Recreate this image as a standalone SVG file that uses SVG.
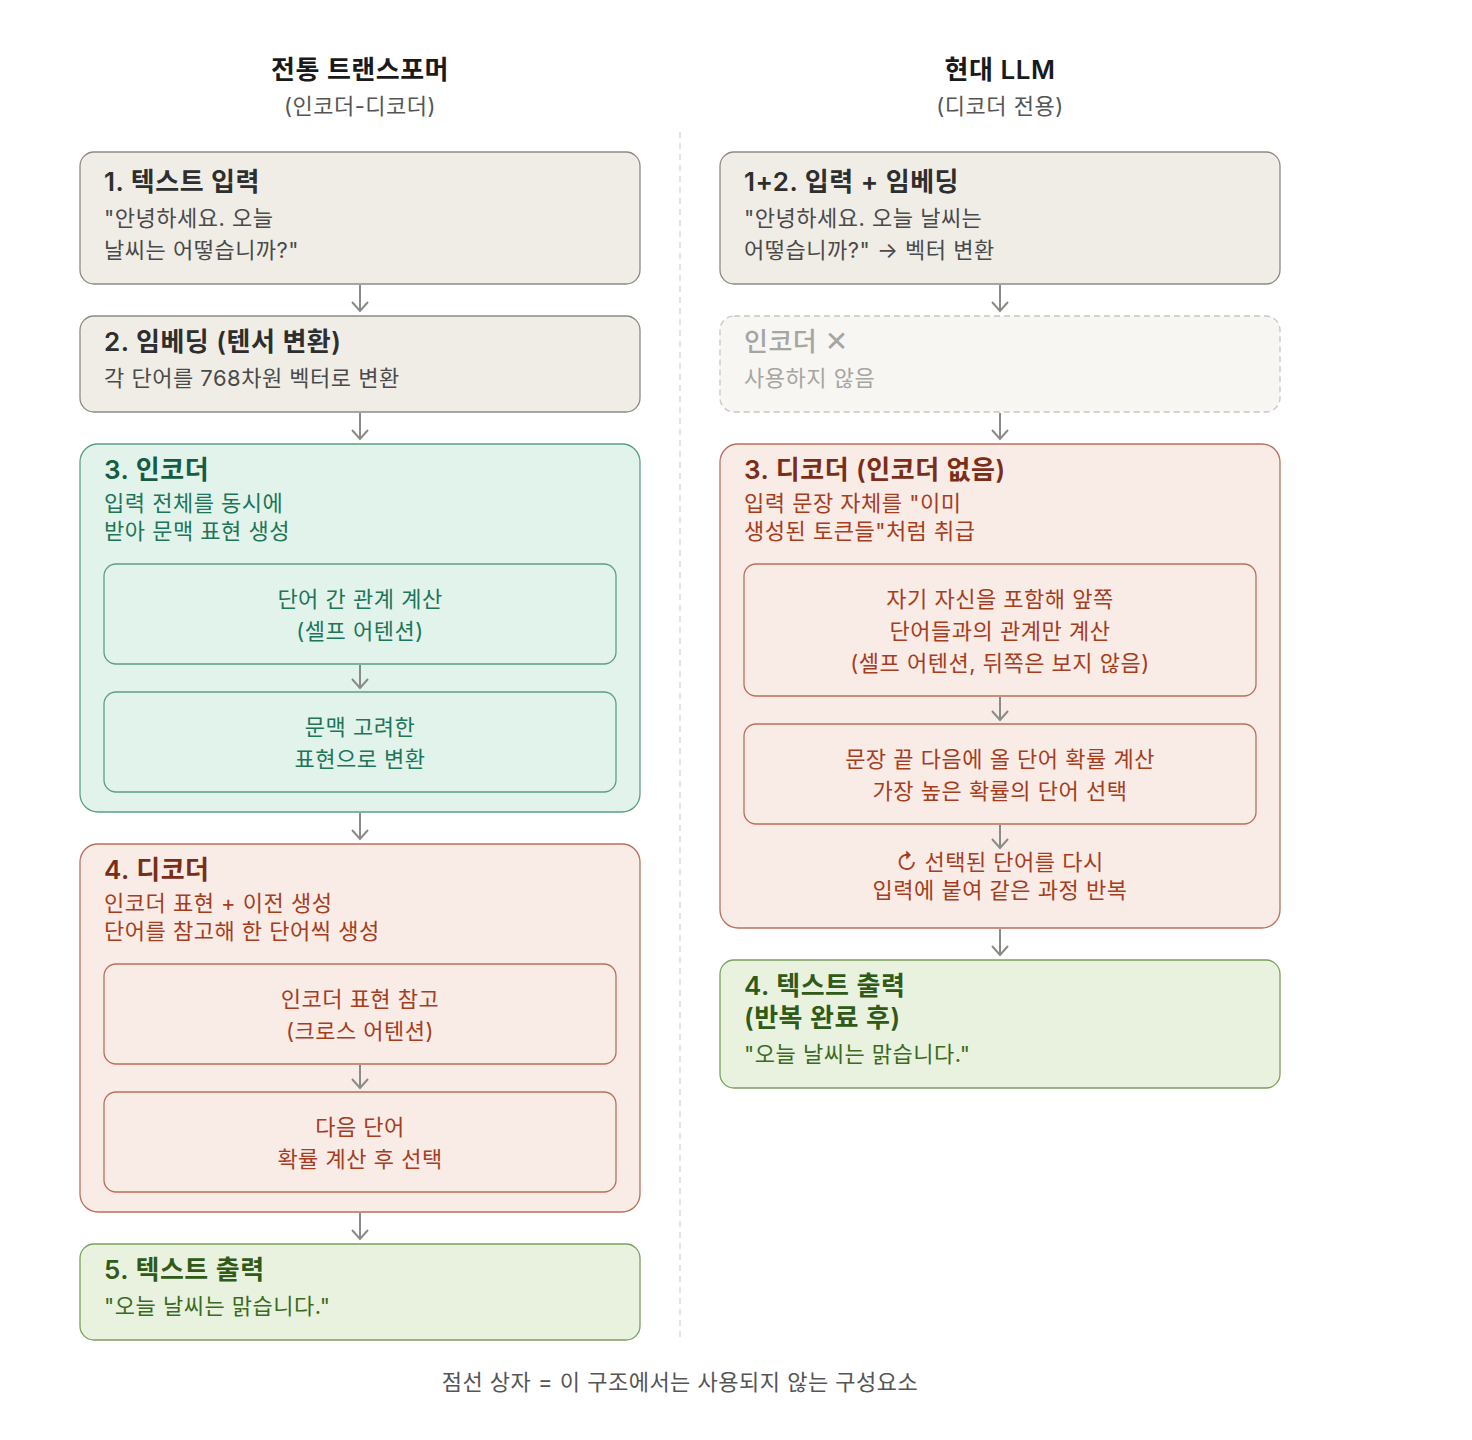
<svg xmlns="http://www.w3.org/2000/svg" width="1472" height="1440" viewBox="0 0 1472 1440">
<style>
text { font-family: Inter, "Noto Sans CJK KR", "Noto Sans", sans-serif; letter-spacing: 0.5px; }
.h { font-size: 26px; font-weight: 600; fill: #1a1a1a; text-anchor: middle; }
.sub { font-size: 22px; fill: #555; text-anchor: middle; }
.t { font-size: 26px; font-weight: 600; }
.b { font-size: 22px; }
.c { text-anchor: middle; }
.gray rect { fill: #f0ede6; stroke: #8c8a85; stroke-width: 1.3; }
.gray .t { fill: #2e2e2e; }
.gray .b { fill: #4a4a4a; }
.teal rect { fill: #e2f3ec; stroke: #5e9e86; stroke-width: 1.3; }
.teal .t { fill: #155c45; }
.teal .b { fill: #1e7558; }
.red rect { fill: #f9ebe5; stroke: #b9705a; stroke-width: 1.3; }
.red .t { fill: #7a2e17; }
.red .b { fill: #a43e1e; }
.green rect { fill: #e9f2df; stroke: #7c9f5f; stroke-width: 1.3; }
.green .t { fill: #2f5a17; }
.green .b { fill: #3b6a1e; }
.off rect { fill: #f7f6f2; stroke: #c8c6c1; stroke-width: 1.3; stroke-dasharray: 6 4; }
.off .t { fill: #a5a5a2; font-weight: 500; }
.off .b { fill: #a5a5a2; }
.x { font-family: "DejaVu Sans", sans-serif; font-weight: 400; font-size: 28px; }
.conn line { stroke: #8a8a86; stroke-width: 2; }
.conn path { fill: none; stroke: #8a8a86; stroke-width: 2; }
</style>

<g id="headers">
<text class="h" x="360" y="79">전통 트랜스포머</text>
<text class="sub" x="360" y="114">(인코더-디코더)</text>
<text class="h" x="1000" y="79">현대 LLM</text>
<text class="sub" x="1000" y="114">(디코더 전용)</text>
</g>

<line id="divider" x1="680" y1="132" x2="680" y2="1340" stroke="#dcdcd8" stroke-width="1.5" stroke-dasharray="6 5"/>

<g id="left-input" class="gray">
<rect x="80" y="152" width="560" height="132" rx="14"/>
<text class="t" x="104" y="191">1. 텍스트 입력</text>
<text class="b" x="104" y="226">"안녕하세요. 오늘</text>
<text class="b" x="104" y="258">날씨는 어떻습니까?"</text>
</g>

<g id="left-embed" class="gray">
<rect x="80" y="316" width="560" height="96" rx="14"/>
<text class="t" x="104" y="351">2. 임베딩 (텐서 변환)</text>
<text class="b" x="104" y="386">각 단어를 768차원 벡터로 변환</text>
</g>

<g id="left-encoder" class="teal">
<rect x="80" y="444" width="560" height="368" rx="18"/>
<text class="t" x="104" y="479">3. 인코더</text>
<text class="b" x="104" y="511">입력 전체를 동시에</text>
<text class="b" x="104" y="539">받아 문맥 표현 생성</text>
<g id="enc-selfattn">
<rect x="104" y="564" width="512" height="100" rx="12"/>
<text class="b c" x="360" y="607">단어 간 관계 계산</text>
<text class="b c" x="360" y="639">(셀프 어텐션)</text>
</g>
<g id="enc-context">
<rect x="104" y="692" width="512" height="100" rx="12"/>
<text class="b c" x="360" y="735">문맥 고려한</text>
<text class="b c" x="360" y="767">표현으로 변환</text>
</g>
</g>

<g id="left-decoder" class="red">
<rect x="80" y="844" width="560" height="368" rx="18"/>
<text class="t" x="104" y="879">4. 디코더</text>
<text class="b" x="104" y="911">인코더 표현 + 이전 생성</text>
<text class="b" x="104" y="939">단어를 참고해 한 단어씩 생성</text>
<g id="dec-cross">
<rect x="104" y="964" width="512" height="100" rx="12"/>
<text class="b c" x="360" y="1007">인코더 표현 참고</text>
<text class="b c" x="360" y="1039">(크로스 어텐션)</text>
</g>
<g id="dec-next">
<rect x="104" y="1092" width="512" height="100" rx="12"/>
<text class="b c" x="360" y="1135">다음 단어</text>
<text class="b c" x="360" y="1167">확률 계산 후 선택</text>
</g>
</g>

<g id="left-output" class="green">
<rect x="80" y="1244" width="560" height="96" rx="14"/>
<text class="t" x="104" y="1279">5. 텍스트 출력</text>
<text class="b" x="104" y="1314">"오늘 날씨는 맑습니다."</text>
</g>

<g id="right-input" class="gray">
<rect x="720" y="152" width="560" height="132" rx="14"/>
<text class="t" x="744" y="191">1+2. 입력 + 임베딩</text>
<text class="b" x="744" y="226">"안녕하세요. 오늘 날씨는</text>
<text class="b" x="744" y="258">어떻습니까?" → 벡터 변환</text>
</g>

<g id="right-encoder-off" class="off">
<rect x="720" y="316" width="560" height="96" rx="14"/>
<text class="t" x="744" y="351">인코더 <tspan class="x">✕</tspan></text>
<text class="b" x="744" y="386">사용하지 않음</text>
</g>

<g id="right-decoder" class="red">
<rect x="720" y="444" width="560" height="484" rx="18"/>
<text class="t" x="744" y="479">3. 디코더 (인코더 없음)</text>
<text class="b" x="744" y="511">입력 문장 자체를 "이미</text>
<text class="b" x="744" y="539">생성된 토큰들"처럼 취급</text>
<g id="rdec-masked">
<rect x="744" y="564" width="512" height="132" rx="12"/>
<text class="b c" x="1000" y="607">자기 자신을 포함해 앞쪽</text>
<text class="b c" x="1000" y="639">단어들과의 관계만 계산</text>
<text class="b c" x="1000" y="671">(셀프 어텐션, 뒤쪽은 보지 않음)</text>
</g>
<g id="rdec-next">
<rect x="744" y="724" width="512" height="100" rx="12"/>
<text class="b c" x="1000" y="767">문장 끝 다음에 올 단어 확률 계산</text>
<text class="b c" x="1000" y="799">가장 높은 확률의 단어 선택</text>
</g>
<g id="rdec-loop">
<text class="b c" x="1000" y="870">↻ 선택된 단어를 다시</text>
<text class="b c" x="1000" y="898">입력에 붙여 같은 과정 반복</text>
</g>
</g>

<g id="right-output" class="green">
<rect x="720" y="960" width="560" height="128" rx="14"/>
<text class="t" x="744" y="995">4. 텍스트 출력</text>
<text class="t" x="744" y="1027">(반복 완료 후)</text>
<text class="b" x="744" y="1062">"오늘 날씨는 맑습니다."</text>
</g>

<g id="connectors" class="conn">
<line x1="360" y1="285" x2="360" y2="311"/><path d="M352 302 L360 311 L368 302"/>
<line x1="360" y1="413" x2="360" y2="439"/><path d="M352 430 L360 439 L368 430"/>
<line x1="360" y1="665" x2="360" y2="688"/><path d="M352 679 L360 688 L368 679"/>
<line x1="360" y1="813" x2="360" y2="839"/><path d="M352 830 L360 839 L368 830"/>
<line x1="360" y1="1065" x2="360" y2="1088"/><path d="M352 1079 L360 1088 L368 1079"/>
<line x1="360" y1="1213" x2="360" y2="1239"/><path d="M352 1230 L360 1239 L368 1230"/>
<line x1="1000" y1="285" x2="1000" y2="311"/><path d="M992 302 L1000 311 L1008 302"/>
<line x1="1000" y1="413" x2="1000" y2="439"/><path d="M992 430 L1000 439 L1008 430"/>
<line x1="1000" y1="697" x2="1000" y2="720"/><path d="M992 711 L1000 720 L1008 711"/>
<line x1="1000" y1="825" x2="1000" y2="848"/><path d="M992 839 L1000 848 L1008 839"/>
<line x1="1000" y1="929" x2="1000" y2="955"/><path d="M992 946 L1000 955 L1008 946"/>
</g>

<text id="legend" class="sub" x="680" y="1390">점선 상자 = 이 구조에서는 사용되지 않는 구성요소</text>
</svg>
